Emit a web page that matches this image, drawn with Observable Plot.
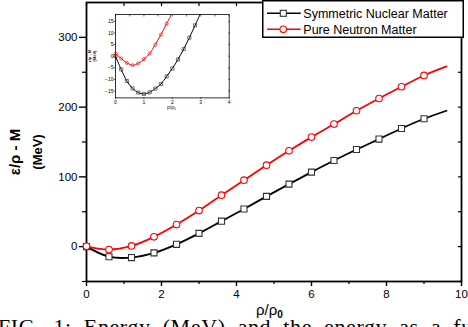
<!DOCTYPE html>
<html><head><meta charset="utf-8">
<script src="https://cdn.jsdelivr.net/npm/d3@7"></script>
<script src="https://cdn.jsdelivr.net/npm/@observablehq/plot@0.6"></script>
<style>
body{margin:0;background:#fff;}
#wrap{position:relative;width:468px;height:327px;overflow:hidden;font-family:"Liberation Sans",Arial,sans-serif;color:#000;background:#fff;}
.rot{position:absolute;white-space:nowrap;line-height:1;transform:translate(-50%,-50%) rotate(-90deg);font-weight:bold;}
</style></head><body><div id="wrap"></div>
<script>
// ---- data ----
const rho = [0,0.6,1.2,1.8,2.4,3.0,3.6,4.2,4.8,5.4,6.0,6.6,7.2,7.8,8.4,9.0,9.6];
const snm = [0,-14.5,-15.7,-9,3.3,19,36.5,54,72,89.6,106.8,123.4,139.2,154.2,169.4,183.3,194.8];
const pnm = [0.5,-4.2,1,14,31.6,51.7,73.8,95.3,116.8,137.4,157,175.7,194.8,212.4,229.2,245.4,258.4];
const insetRhoS = [0,0.2,0.4,0.6,0.8,1.0,1.2,1.4,1.6,1.8,2.0,2.2,2.4,2.6,2.8,3.0];
const insetSnm  = [0,-5.7,-10.7,-13.9,-15.7,-16.3,-15.6,-14.0,-12.0,-8.7,-5.3,-1.4,3.1,8.0,13.3,18.8];
const insetRhoP = [0,0.2,0.4,0.6,0.8,1.0,1.2,1.4,1.6,1.8,2.0];
const insetPnm  = [1.1,-1.0,-2.9,-3.9,-3.1,-1.3,1.1,5.0,9.3,14.0,18.8];
const xTicks = [0,2,4,6,8,10];
const yTicks = [0,100,200,300];
const insetXTicks = [0,1,2,3,4];
const insetYTicks = [-15,-10,-5,0,5,10,15];
const seriesNames = ["Symmetric Nuclear Matter","Pure Neutron Matter"];
const colors = ["#000000","#ff0000"];

const wrap = document.getElementById("wrap");
const font = "Liberation Sans, Arial, sans-serif";
const blank = () => "";

const mainData = rho.map((r,i)=>({r, s:snm[i], p:pnm[i]}));
const markData = mainData.filter(d => d.r <= 9.0);

const main = Plot.plot({
  width:468, height:300, marginLeft:86, marginRight:7, marginTop:2, marginBottom:19,
  x:{domain:[0,10]}, y:{domain:[-50,350]},
  style:{fontFamily:font, fontSize:"11.5px", color:"#000", background:"transparent", overflow:"visible"},
  marks:[
    Plot.axisX(xTicks,{tickSize:5, tickPadding:3, label:null, fontSize:11.5, strokeWidth:1.4}),
    Plot.axisX(d3.range(1,10,2),{tickSize:3, tickFormat:blank, label:null, strokeWidth:1.2}),
    Plot.axisY(yTicks,{tickSize:7, tickPadding:2, label:null, fontSize:11.5, strokeWidth:1.4}),
    Plot.axisY([-50,50,150,250],{tickSize:4, tickFormat:blank, label:null, strokeWidth:1.2}),
    Plot.axisY(d3.range(-50,351,50),{anchor:"right", tickSize:-4, tickFormat:blank, label:null, strokeWidth:1.2}),
    Plot.axisX(d3.range(0,11,1),{anchor:"top", tickSize:-3, tickFormat:blank, label:null, strokeWidth:1.2}),
    Plot.frame({stroke:"#000", strokeWidth:1.8}),
    Plot.line(mainData,{x:"r", y:"s", stroke:colors[0], strokeWidth:1.8, curve:"catmull-rom"}),
    Plot.dot(markData,{x:"r", y:"s", symbol:"square", r:3.4, fill:"#fff", stroke:"#333", strokeWidth:1.1}),
    Plot.line(mainData,{x:"r", y:"p", stroke:colors[1], strokeWidth:1.8, curve:"catmull-rom"}),
    Plot.dot(markData,{x:"r", y:"p", symbol:"circle", r:3.3, fill:"#fff", stroke:colors[1], strokeWidth:1.1})
  ]
});
main.style.position="absolute"; main.style.left="0px"; main.style.top="0px";
wrap.appendChild(main);

// ---- inset ----
const insS = insetRhoS.map((r,i)=>({r, v:insetSnm[i]}));
const insP = insetRhoP.map((r,i)=>({r, v:insetPnm[i]}));
const inset = Plot.plot({
  width:134.7, height:96.4, marginLeft:15, marginRight:6, marginTop:4, marginBottom:9,
  x:{domain:[0,4]}, y:{domain:[-18,18]},
  style:{fontFamily:font, fontSize:"5px", color:"#000", background:"transparent", overflow:"visible"},
  marks:[
    Plot.axisX(insetXTicks,{tickSize:1.5, tickPadding:1, label:null, fontSize:5, strokeWidth:0.6}),
    Plot.axisY(insetYTicks,{tickSize:1.5, tickPadding:0.5, label:null, fontSize:5, strokeWidth:0.6}),
    Plot.axisX(d3.range(0,4.01,0.5),{anchor:"top", tickSize:-1.5, tickFormat:blank, label:null, strokeWidth:0.6}),
    Plot.axisY(d3.range(-15,16,5),{anchor:"right", tickSize:-1.5, tickFormat:blank, label:null, strokeWidth:0.6}),
    Plot.frame({stroke:"#000", strokeWidth:0.8}),
    Plot.line(insS,{x:"r", y:"v", stroke:colors[0], strokeWidth:1, curve:"catmull-rom", clip:true}),
    Plot.dot(insS.filter(d=>d.v<18),{x:"r", y:"v", symbol:"square", r:1.8, fill:"none", stroke:"#222", strokeWidth:0.6}),
    Plot.line(insP,{x:"r", y:"v", stroke:colors[1], strokeWidth:1, curve:"catmull-rom", clip:true}),
    Plot.dot(insP.filter(d=>d.v<18),{x:"r", y:"v", symbol:"circle", r:1.6, fill:"none", stroke:colors[1], strokeWidth:0.6})
  ]
});
inset.style.position="absolute"; inset.style.left="100.3px"; inset.style.top="10.3px";
wrap.appendChild(inset);

// ---- labels ----
function addDiv(html, css){ const d=document.createElement("div"); d.innerHTML=html; d.style.cssText=css; wrap.appendChild(d); return d; }
addDiv("ρ/ρ<sub style='font-size:10px;font-weight:bold;vertical-align:-3px;line-height:0'>0</sub>",
  "position:absolute;left:256px;top:301.5px;font-size:15px;line-height:1;white-space:nowrap;");
addDiv("ε/ρ - M","left:13.8px;top:152px;font-size:15px;").className="rot";
addDiv("(MeV)","left:36.5px;top:152px;font-size:13px;").className="rot";
// inset labels
addDiv("ε/ρ - M","left:90px;top:56px;font-size:4px;").className="rot";
addDiv("(MeV)","left:95px;top:56px;font-size:4px;").className="rot";
addDiv("ρ/ρ<sub style='font-size:3px;vertical-align:-1px;line-height:0'>0</sub>",
  "position:absolute;left:167px;top:105px;font-size:5px;line-height:1;white-space:nowrap;");

// ---- legend ----
const leg = d3.select(wrap).append("svg").attr("width",203).attr("height",39)
  .style("position","absolute").style("left","262px").style("top","0px");
leg.append("rect").attr("x",0.75).attr("y",0.75).attr("width",200.5).attr("height",36.5)
  .attr("fill","#fff").attr("stroke","#000").attr("stroke-width",1.5);
seriesNames.forEach((name,i)=>{
  const y = 13.3 + i*16;
  const g = leg.append("g");
  g.append("line").attr("x1",5).attr("x2",38.7).attr("y1",y).attr("y2",y).attr("stroke",colors[i]).attr("stroke-width",1.6);
  if(i===0) g.append("rect").attr("x",21.3-3).attr("y",y-3).attr("width",6).attr("height",6).attr("fill","#fff").attr("stroke","#333").attr("stroke-width",1.1);
  else g.append("circle").attr("cx",21.3).attr("cy",y).attr("r",3.3).attr("fill","#fff").attr("stroke",colors[1]).attr("stroke-width",1.1);
  g.append("text").attr("x",41.3).attr("y",y+4.4).attr("font-family",font).attr("font-size",12.5).text(name);
});

// ---- clipped caption (only its top shows, as in the reference) ----
addDiv("FIG. 1: Energy (MeV) and the energy as a function",
  "position:absolute;left:-2px;top:316px;font-family:'Liberation Serif',serif;font-size:22px;line-height:1;white-space:nowrap;letter-spacing:0.6px;word-spacing:6px;");
</script></body></html>
